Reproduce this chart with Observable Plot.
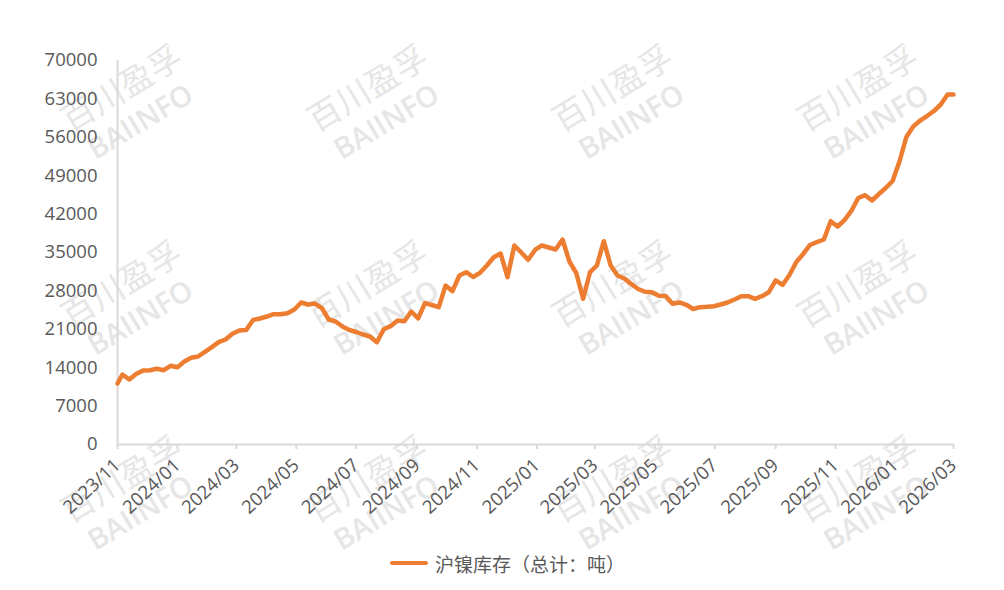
<!DOCTYPE html>
<html>
<head>
<meta charset="utf-8">
<script src="https://cdn.jsdelivr.net/npm/d3@7"></script>
<script src="https://cdn.jsdelivr.net/npm/@observablehq/plot@0.6"></script>
<style>
html,body{margin:0;padding:0;background:#fff;}
#wrap{position:relative;width:1004px;height:590px;overflow:hidden;font-family:"Open Sans","Noto Sans CJK SC",sans-serif;}
#marks{position:absolute;left:0;top:0;width:1004px;height:590px;}
#chart{position:absolute;left:0;top:0;}
#chart svg{background:transparent;}
.wm{position:absolute;transform:rotate(-31deg);transform-origin:0 0;color:#e6e6e6;white-space:nowrap;line-height:1;}
#legend{position:absolute;left:390px;top:550px;height:26px;display:flex;align-items:center;color:#595959;font-size:19px;font-family:"Noto Sans CJK SC",sans-serif;}
#legend i{display:block;width:38px;height:4.5px;border-radius:2px;background:#ED7D31;margin-right:7px;}
</style>
</head>
<body>
<div id="wrap">
<div id="marks"></div>
<div id="chart"></div>
<div id="legend"><i></i><span>沪镍库存（总计：吨）</span></div>
</div>
<script>
const seriesName = "沪镍库存（总计：吨）";
const firstDate = "2023-11-01";
const firstMonday = "2023-11-06";
const lastDate = "2026-03-01";
const inventory = [
11120,12760,11850,12850,13490,13540,13800,13540,14350,14090,
15130,15800,16040,16900,17740,18650,19140,20180,20780,20870,
22700,22970,23330,23750,23750,23930,24610,25890,25520,25700,
24880,22790,22420,21510,20870,20510,20050,19690,18650,21020,
21570,22600,22480,24240,22970,25760,25430,25030,28980,27950,
30810,31410,30530,31300,32630,34140,34820,30500,36280,35000,
33670,35460,36280,35910,35550,37370,33360,31260,26560,31410,
32630,37060,32630,30810,30260,29260,28350,27840,27760,27110,
27070,25650,25890,25470,24700,25030,25100,25210,25520,25890,
26430,27030,27030,26560,27030,27760,29900,29080,30900,33270,
34730,36370,36910,37370,40710,39740,40920,42570,44930,45450,
44480,45660,46760,48030,51590,56050,57970,59060,59880,60790,
61980,63800,63800];
const yTicks = [0,7000,14000,21000,28000,35000,42000,49000,56000,63000,70000];
const xTickLabels = ["2023/11","2024/01","2024/03","2024/05","2024/07","2024/09","2024/11","2025/01","2025/03","2025/05","2025/07","2025/09","2025/11","2026/01","2026/03"];
const watermarkCn = "百川盈孚";
const watermarkEn = "BAIINFO";

const parseDay = d3.utcParse("%Y-%m-%d");
const parseMonth = d3.utcParse("%Y/%m");
const formatMonth = d3.utcFormat("%Y/%m");
const weekDates = inventory.slice(1, -1).map((_, i) => d3.utcDay.offset(parseDay(firstMonday), 7 * i));
const dates = [parseDay(firstDate), ...weekDates, parseDay(lastDate)];
const table = inventory.map((v, i) => ({date: dates[i], value: v}));
const xTicks = xTickLabels.map(parseMonth);

const axisColor = "#d9d9d9";
const textColor = "#595959";

const chart = Plot.plot({
  width: 1004,
  height: 540,
  marginLeft: 117,
  marginRight: 51,
  marginTop: 60,
  marginBottom: 96,
  style: {fontFamily: '"Open Sans","Noto Sans CJK SC",sans-serif', fontSize: "18.5px", background: "transparent", overflow: "visible"},
  x: {type: "utc", domain: [parseDay(firstDate), parseDay(lastDate)], axis: null},
  y: {domain: [0, 70000], axis: null},
  marks: [
    Plot.axisY(yTicks, {tickSize: 0, tickPadding: 20, tickFormat: d3.format("d"), fill: textColor, label: null, fontSize: 18.5}),
    Plot.ruleX([parseDay(firstDate)], {stroke: axisColor, strokeWidth: 2}),
    Plot.ruleY([0], {stroke: axisColor, strokeWidth: 2}),
    Plot.axisX(xTicks, {tickSize: 5, tickPadding: 13, tickRotate: -43, tickFormat: formatMonth, stroke: axisColor, strokeWidth: 2, fill: textColor, label: null, fontSize: 18.5}),
    Plot.line(table, {x: "date", y: "value", stroke: "#ED7D31", strokeWidth: 4.5, strokeLinejoin: "round", strokeLinecap: "round", curve: "linear"})
  ]
});
document.getElementById("chart").appendChild(chart);

// background watermark
const wmCols = [48, 294, 539, 784];
const wmRows = [112, 308, 503];
const marks = document.getElementById("marks");
for (const r of wmRows) for (const c of wmCols) {
  const a = document.createElement("div");
  a.className = "wm";
  a.textContent = watermarkCn;
  a.style.cssText = `left:${c + 7}px;top:${r - 5}px;font-size:33px;letter-spacing:0.5px;font-family:"Noto Sans CJK SC",sans-serif;`;
  marks.appendChild(a);
  const b = document.createElement("div");
  b.className = "wm";
  b.textContent = watermarkEn;
  b.style.cssText = `left:${c + 34}px;top:${r + 26}px;font-size:29px;font-weight:600;font-family:"Open Sans",sans-serif;`;
  marks.appendChild(b);
}
</script>
</body>
</html>
